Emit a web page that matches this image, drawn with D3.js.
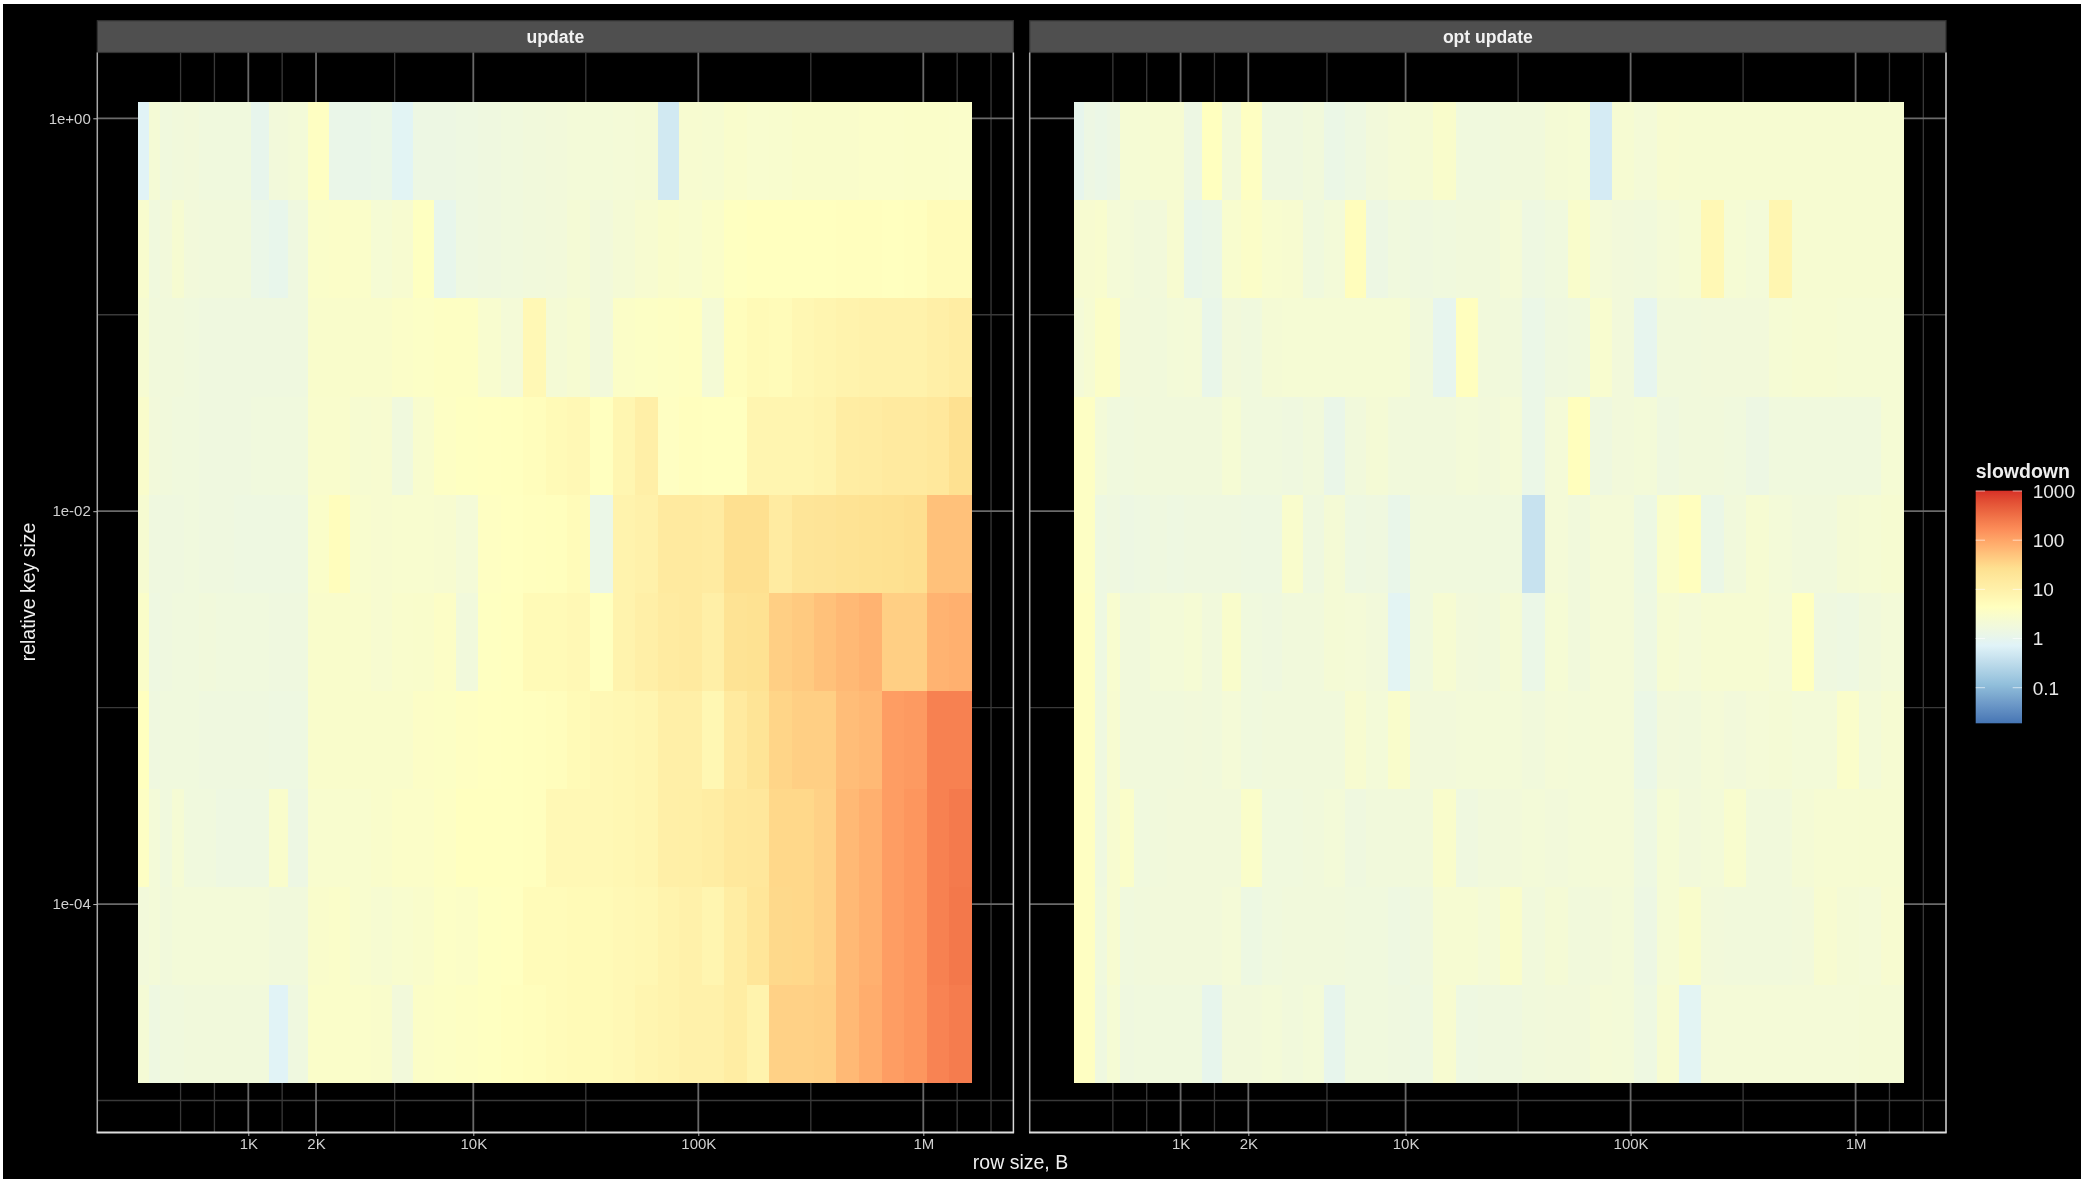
<!DOCTYPE html>
<html>
<head>
<meta charset="utf-8">
<script src="https://cdnjs.cloudflare.com/ajax/libs/d3/7.8.5/d3.min.js"></script>
<style>
html,body{margin:0;padding:0;background:#fff;overflow:hidden}
svg{display:block;will-change:transform}
text{font-family:"Liberation Sans",Arial,Helvetica,sans-serif}
</style>
</head>
<body>
<svg id="chart" width="2081" height="1179"></svg>
<script>
// ---------- data ----------
const panelNames = ["update", "opt update"];
const xMajorBreaks = [1e3, 2e3, 1e4, 1e5, 1e6];
const xMajorLabels = ["1K", "2K", "10K", "100K", "1M"];
const xMinorBreaks = [500, 707, 1414, 4472, 31623, 316228, 1414214, 2000000];
const yMajorBreaks = [1, 1e-2, 1e-4];
const yMajorLabels = ["1e+00", "1e-02", "1e-04"];
const yMinorBreaks = [1e-1, 1e-3, 1e-5];
const legendBreaks = [1000, 100, 10, 1, 0.1];
const legendLabels = ["1000", "100", "10", "1", "0.1"];
const paletteColours = ["#4575B4", "#91BFDB", "#E0F3F8", "#FFFFBF", "#FEE090", "#FC8D59", "#D73027"];

// relative key size of each row, top to bottom
const keySizes = [0.679, 0.2151, 0.0681, 0.02158, 0.00684, 0.002167, 0.000686, 0.0002174, 0.0000689, 0.0000218];

// tile edges along the row size axis, bytes
const updateEdges = [325, 361, 404, 457, 517, 604, 718, 860, 1024, 1232, 1503, 1844, 2276, 2830, 3493, 4339, 5395, 6695, 8375, 10470, 13250, 16670, 20960, 26180, 32960, 41700, 52480, 66070, 82400, 103700, 130600, 164300, 206500, 260000, 326600, 411000, 520000, 654600, 824000, 1035000, 1303000, 1648000];
const optEdges = [335, 373, 416, 469, 538, 619, 733, 871, 1037, 1241, 1523, 1857, 2293, 2830, 3493, 4339, 5395, 6695, 8375, 10470, 13250, 16670, 20960, 26180, 32960, 41700, 52480, 66070, 82400, 103700, 130600, 164300, 206500, 260000, 326600, 411000, 520000, 654600, 824000, 1035000, 1303000, 1648000];

// slowdown per tile, one list per key size
const updateValues = [
 [.75,2.2,1.7,1.8,1.9,1.7,1.7,1.7,1.05,1.9, 2.0,4,1.2,1.2,1.3,.8,1.4,1.4,1.5,1.6, 1.7,1.8,1.9,2,2,2.1,2.2,.5,2.6,2.5, 2.9,2.7,2.8,3,3,3,3.1,3.1,3.2,3.2, 3.1],
 [2.8,1.7,1.9,2.5,1.9,1.8,1.8,1.8,1.25,1.1, 1.6,3.2,3.3,3.2,2.3,2.6,4.2,1.1,1.5,1.6, 1.7,1.8,1.9,2.2,1.9,2.2,2.6,3,2.8,3.2, 4.2,4.4,4.4,4.5,4.5,4.6,4.6,4.4,4.6,5.5, 5.5],
 [2.4,1.8,1.8,1.8,1.7,1.6,1.6,1.6,1.6,1.6, 1.6,3,3,3,3,3.3,3.6,3.9,3.9,2.7, 2.1,6.5,2.2,2.5,1.9,3.4,3.7,3.9,4.1,2.2, 5,6,5.5,7,8,9,9.5,9.5,9.5,11, 13],
 [3,1.9,1.8,1.7,1.7,1.6,1.6,1.6,1.7,1.7, 1.7,2.9,2.9,2.5,2.6,1.7,2.8,3.8,4.2,4.3, 4.4,5,6,6.5,4.5,7.5,11,4,4.6,4.4, 4.5,8,8,8,9,13,13.5,15,15,17, 26],
 [2.5,1.6,1.6,1.6,1.7,1.6,1.6,1.5,1.5,1.5, 1.5,3.2,5,2.8,2.6,2.7,2.7,2.6,2.1,4, 4.3,4.6,4.8,5.5,1.25,9,10,15,15,14, 27,27,14,20,21,23,25,26,28,55, 55],
 [3.2,1.5,1.6,1.7,1.7,1.8,1.7,1.7,1.7,1.6, 1.6,3,3,2.9,2.6,2.9,3,3.5,1.8,4.2, 4.4,6,6,6.5,4.4,9,11,14,15,11, 23,25,40,45,55,65,75,40,40,75, 80],
 [4.4,1.6,1.7,1.7,1.7,1.6,1.6,1.6,1.6,1.5, 1.5,3,3,3,3,3,3.5,3.7,4,4.3, 4.4,4.6,5,6,6.5,7,8,11,11,7, 15,22,35,40,40,60,65,120,130,220, 220],
 [3.8,2,1.7,2.3,1.7,1.7,1.5,1.5,1.5,3, 1.4,2.8,2.8,2.8,3,3.3,3.3,3.8,4.4,4.5, 4.5,4.6,6.5,6.5,6.5,7,8,11,11.5,13, 17,18,33,33,38,65,80,120,140,220, 260],
 [1.9,2,1.8,2,2,2,2,2,2,1.8, 1.8,3,3.2,2.8,2.5,2.8,3,3.6,3.4,4.2, 4.3,5.5,5.5,6,6,6.5,7,9,10,8, 13,19,32,33,38,65,80,120,140,220, 270],
 [2.2,1.5,1.7,1.7,1.8,1.8,1.8,1.8,1.8,.75, 1.6,3.2,3.2,3.1,3,1.9,3.4,3.7,3.9,4.2, 4.6,5,5.5,6,6,6.5,8,9,10,10, 13,9,38,38,40,65,85,120,140,210, 250]
];
const optValues = [
 [1.05,1.4,1.3,1.4,2.3,2.3,2.4,2.4,1.4,4.5, 1.9,4,1.6,1.6,1.8,1.3,1.5,1.9,2.1,2.2, 3,1.7,1.7,1.8,1.8,2.2,2.3,.55,2.4,2.1, 2.6,2.5,2.5,2.5,2.5,2.5,2.5,2.5,2.5,2.5, 2.5],
 [2.6,2.6,2.8,2.1,2,1.8,1.9,2.6,1.15,1.3, 2.8,3.3,2.7,2.6,1.7,2,5,1.4,1.7,1.6, 1.7,1.8,1.8,2.1,1.5,1.7,3,2.1,1.9,1.8, 2.1,2.3,6.5,2.3,2,7.5,2.5,2.5,2.5,2.5, 2.5],
 [2.1,2.4,3.4,3.4,1.9,1.9,1.8,2,2.1,1.15, 1.9,1.7,2.2,2.3,2.3,2.3,2.3,2.3,2.3,1.8, 1,4.6,1.8,1.8,1.25,1.6,1.7,2.7,1.9,1, 1.8,1.8,1.9,1.9,1.9,2.3,2.4,2.4,2.3,2.3, 2.3],
 [3.8,3.8,2,1.7,1.7,1.8,1.8,1.8,1.8,1.8, 2.3,1.7,1.7,1.6,1.8,1.2,1.8,2.2,1.8,1.8, 1.8,2,1.9,2.1,1.25,2.1,4.8,1.6,1.9,2, 1.6,1.8,1.8,1.7,1.4,1.7,1.7,1.7,1.7,1.7, 2.3],
 [3.8,3.8,1.5,1.6,1.4,1.5,1.6,1.5,1.6,1.6, 1.6,1.5,1.5,2.9,1.6,2.2,1.5,1.6,1.15,1.7, 1.7,1.7,1.7,1.7,.4,2.1,1.8,2.1,2.1,1.45, 3.2,4.6,1.3,1.8,2.4,2,1.8,1.8,2.2,2.3, 2.5],
 [4,4,1.5,2.7,1.8,1.8,2,2,2.3,1.8, 3,1.7,1.6,1.8,1.8,2.2,2.1,1.9,.85,1.7, 2.4,1.9,1.8,2.2,1.25,2.3,1.8,2.1,2.1,1.5, 2.4,2.1,2.4,2.4,2.4,2.1,4.5,1.6,1.5,1.8, 2],
 [4,4,1.6,2.6,1.8,1.8,1.8,1.8,1.9,1.8, 2.1,1.7,1.8,1.8,1.8,1.8,2.6,2,3,1.9, 1.9,2,2,2,1.8,2.1,2,2.1,2.1,1.3, 1.9,1.8,2.1,1.9,2.1,2.2,2,2,3.1,2, 2.4],
 [4,4,1.6,2.6,3.2,1.7,1.8,1.9,1.9,1.9, 1.9,3.2,1.7,1.7,1.8,2,1.6,1.8,1.8,1.8, 3,1.6,1.8,1.9,2,1.9,2,2.1,2.1,1.5, 2.3,1.9,2,2.8,1.8,1.8,2.2,2.4,2.4,2.5, 2.5],
 [4,4,1.7,2.6,1.7,1.8,1.9,1.9,1.9,1.9, 2.1,1.45,1.7,1.8,1.8,1.8,1.7,1.7,1.5,1.6, 2.4,2.4,2.1,3,1.8,2.2,1.8,1.9,2,1.4, 2.3,3,1.9,1.8,1.8,1.8,1.9,2.6,2.2,2.1, 2.6],
 [4,4,1.6,2.3,1.6,1.7,1.7,1.7,1.7,1.05, 1.9,1.9,2,1.8,2,1.05,1.7,1.7,1.6,1.5, 2.6,1.5,1.6,1.6,1.8,1.9,1.9,2.1,2,1.5, 2.6,.85,2.1,2.1,2.1,2.1,2.1,2.1,2.1,2.2, 2.2]
];

// ---------- layout ----------
const W = 2081, H = 1179;
const panelTop = 52.5, panelBottom = 1132.5, stripTop = 20.7;
const panels = [
  {name: panelNames[0], left: 97.3, right: 1013.4, shift: 0, edges: updateEdges, values: updateValues},
  {name: panelNames[1], left: 1029.7, right: 1946, shift: 932.3, edges: optEdges, values: optValues}
];
const gridMajor = "#6a6a6a", gridMinor = "#3a3a3a", tickText = "#d0d0d0";

const svg = d3.select("#chart");
svg.append("rect").attr("x", 0).attr("y", 0).attr("width", W).attr("height", H).attr("fill", "#ffffff");
svg.append("rect").attr("x", 3).attr("y", 4).attr("width", W - 3).attr("height", H - 4).attr("fill", "#000000");

const y = d3.scaleLog().domain([1, 1e-5]).range([118.3, 1100.5]);
const halfRow = Math.pow(10, 0.2496);

// colour scale, RdYlBu reversed over the log of the slowdown
const logLo = -1.73, logHi = 3.02;
const colourStops = paletteColours.map((c, i) => Math.pow(10, logLo + (logHi - logLo) * i / (paletteColours.length - 1)));
const colour = d3.scaleLog().domain(colourStops).range(paletteColours).interpolate(d3.interpolateLab).clamp(true);

panels.forEach(p => {
  const x = d3.scaleLog().domain([1e3, 1e6]).range([248.3 + p.shift, 923.3 + p.shift]);
  const g = svg.append("g");

  // strip
  g.append("rect").attr("x", p.left).attr("y", stripTop)
    .attr("width", p.right - p.left).attr("height", panelTop - stripTop)
    .attr("fill", "#4f4f4f").attr("stroke", "#333333").attr("stroke-width", 1.2);
  g.append("text").attr("x", (p.left + p.right) / 2).attr("y", 42.8)
    .attr("text-anchor", "middle").attr("font-size", 17.6).attr("font-weight", "bold")
    .attr("fill", "#f2f2f2").text(p.name);

  // grid
  const grid = g.append("g");
  grid.selectAll(".xminor").data(xMinorBreaks).enter().append("line")
    .attr("x1", d => x(d)).attr("x2", d => x(d)).attr("y1", panelTop).attr("y2", panelBottom)
    .attr("stroke", gridMinor).attr("stroke-width", 1.3);
  grid.selectAll(".yminor").data(yMinorBreaks).enter().append("line")
    .attr("y1", d => y(d)).attr("y2", d => y(d)).attr("x1", p.left).attr("x2", p.right)
    .attr("stroke", gridMinor).attr("stroke-width", 1.3);
  grid.selectAll(".xmajor").data(xMajorBreaks).enter().append("line")
    .attr("x1", d => x(d)).attr("x2", d => x(d)).attr("y1", panelTop).attr("y2", panelBottom)
    .attr("stroke", gridMajor).attr("stroke-width", 1.8);
  grid.selectAll(".ymajor").data(yMajorBreaks).enter().append("line")
    .attr("y1", d => y(d)).attr("y2", d => y(d)).attr("x1", p.left).attr("x2", p.right)
    .attr("stroke", gridMajor).attr("stroke-width", 1.8);

  // tiles
  const cells = [];
  p.values.forEach((row, r) => row.forEach((v, c) => cells.push({r, c, v})));
  g.append("g").attr("shape-rendering", "crispEdges")
    .selectAll("rect").data(cells).enter().append("rect")
    .attr("x", d => x(p.edges[d.c]))
    .attr("width", d => x(p.edges[d.c + 1]) - x(p.edges[d.c]))
    .attr("y", d => y(keySizes[d.r] * halfRow))
    .attr("height", d => y(keySizes[d.r] / halfRow) - y(keySizes[d.r] * halfRow))
    .attr("fill", d => colour(d.v));

  // border
  g.append("line").attr("x1", p.left).attr("x2", p.left).attr("y1", panelTop).attr("y2", panelBottom)
    .attr("stroke", "#a8a8a8").attr("stroke-width", 1.5);
  g.append("line").attr("x1", p.right).attr("x2", p.right).attr("y1", panelTop).attr("y2", panelBottom)
    .attr("stroke", "#d8d8d8").attr("stroke-width", 1.5);

  // x axis
  const xAxis = d3.axisBottom(x).tickValues(xMajorBreaks)
    .tickFormat((d, i) => xMajorLabels[i]).tickSize(3.5).tickPadding(2.5);
  const ax = g.append("g").attr("transform", `translate(0,${panelBottom})`).call(xAxis);
  ax.select(".domain").remove();
  ax.selectAll("line").attr("stroke", "#bbbbbb");
  ax.selectAll("text").attr("font-size", 15).attr("fill", tickText)
    .attr("font-family", '"Liberation Sans",Arial,sans-serif');
  g.append("line").attr("x1", p.left - 0.7).attr("x2", p.right + 0.7).attr("y1", panelBottom).attr("y2", panelBottom)
    .attr("stroke", "#dddddd").attr("stroke-width", 2);
});

// y axis, first panel only
const yAxis = d3.axisLeft(y).tickValues(yMajorBreaks)
  .tickFormat((d, i) => yMajorLabels[i]).tickSize(4).tickPadding(2.5);
const ay = svg.append("g").attr("transform", `translate(${panels[0].left},0)`).call(yAxis);
ay.select(".domain").remove();
ay.selectAll("line").attr("stroke", "#bbbbbb");
ay.selectAll("text").attr("font-size", 15).attr("fill", tickText)
  .attr("font-family", '"Liberation Sans",Arial,sans-serif');

// axis titles
svg.append("text").attr("x", 1020.5).attr("y", 1168.5).attr("text-anchor", "middle")
  .attr("font-size", 19.5).attr("fill", "#f0f0f0").text("row size, B");
svg.append("text").attr("transform", "translate(35,592) rotate(-90)").attr("text-anchor", "middle")
  .attr("font-size", 19.5).attr("fill", "#f0f0f0").text("relative key size");

// legend
const legY = d3.scaleLog().domain([1000, 0.1]).range([491, 687.7]);
const legX = 1975.7, legW = 46.3, legBottom = 723.3, legTop = 490.7;
const defs = svg.append("defs");
const grad = defs.append("linearGradient").attr("id", "legendGrad")
  .attr("x1", 0).attr("x2", 0).attr("y1", 1).attr("y2", 0);
colourStops.forEach((s, i) => {
  const n = 8;
  d3.range(n).forEach(k => {
    const t = (i + k / n) / (colourStops.length - 1);
    if (t <= 1) grad.append("stop").attr("offset", t)
      .attr("stop-color", colour(Math.pow(10, logLo + (logHi - logLo) * t)));
  });
});
svg.append("rect").attr("x", legX).attr("y", legTop).attr("width", legW).attr("height", legBottom - legTop)
  .attr("fill", "url(#legendGrad)");
legendBreaks.forEach((b, i) => {
  const yy = legY(b);
  svg.append("line").attr("x1", legX).attr("x2", legX + 9.3).attr("y1", yy).attr("y2", yy)
    .attr("stroke", "#ffffff").attr("stroke-opacity", 0.6);
  svg.append("line").attr("x1", legX + legW - 9.3).attr("x2", legX + legW).attr("y1", yy).attr("y2", yy)
    .attr("stroke", "#ffffff").attr("stroke-opacity", 0.6);
  svg.append("text").attr("x", 2032.7).attr("y", yy + 6.8).attr("font-size", 19)
    .attr("fill", "#e8e8e8").text(legendLabels[i]);
});
svg.append("text").attr("x", legX).attr("y", 478).attr("font-size", 19.5).attr("font-weight", "bold")
  .attr("fill", "#eeeeee").text("slowdown");
</script>
</body>
</html>
